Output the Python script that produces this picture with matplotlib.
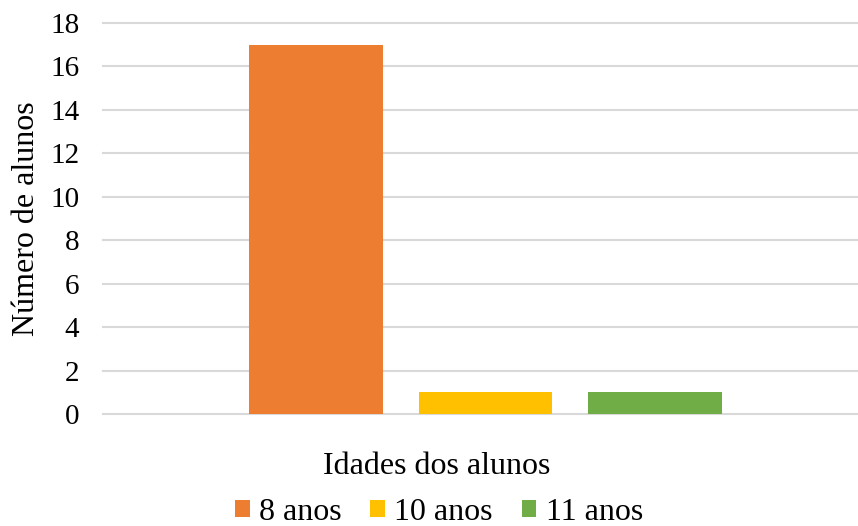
import matplotlib.pyplot as plt

plt.rcParams['font.family'] = ['Liberation Serif', 'DejaVu Serif']

series = ['8 anos', '10 anos', '11 anos']
values = [17, 1, 1]
colors = ['#ED7D31', '#FFC000', '#70AD47']
yticks = [0, 2, 4, 6, 8, 10, 12, 14, 16, 18]

W, H = 858, 526
fig = plt.figure(figsize=(W / 100, H / 100), dpi=100)
ax = fig.add_axes([103 / W, (H - 414) / H, 1 - 103 / W, 391 / H])

positions = list(range(len(series)))
for pos, val, col, name in zip(positions, values, colors, series):
    ax.bar(pos, val, width=0.79, color=col, label=name, zorder=3)

ax.set_xlim(-1.257, 3.198)
ax.set_ylim(0, 18)
ax.set_yticks(yticks)
ax.set_xticks([])
ax.grid(axis='y', color='#d9d9d9', linewidth=1.5, zorder=0)
for gl in ax.get_ygridlines():
    gl.set_clip_on(False)
for s in ax.spines.values():
    s.set_visible(False)
ax.tick_params(axis='y', length=0, labelsize=21, pad=17)

fig.text(27 / W, 1 - 219 / H, 'Número de alunos', rotation=90, fontsize=23,
         ha='center', va='center')
fig.text(437 / W, 1 - 467 / H, 'Idades dos alunos', fontsize=23,
         ha='center', va='center')

fig.legend(loc='center', bbox_to_anchor=(439 / W, 1 - 512 / H), ncol=3,
           frameon=False, fontsize=23, handlelength=0.45, handleheight=0.45,
           handletextpad=0.3, columnspacing=0.9, borderpad=0)

fig.savefig('out.png', dpi=100)
